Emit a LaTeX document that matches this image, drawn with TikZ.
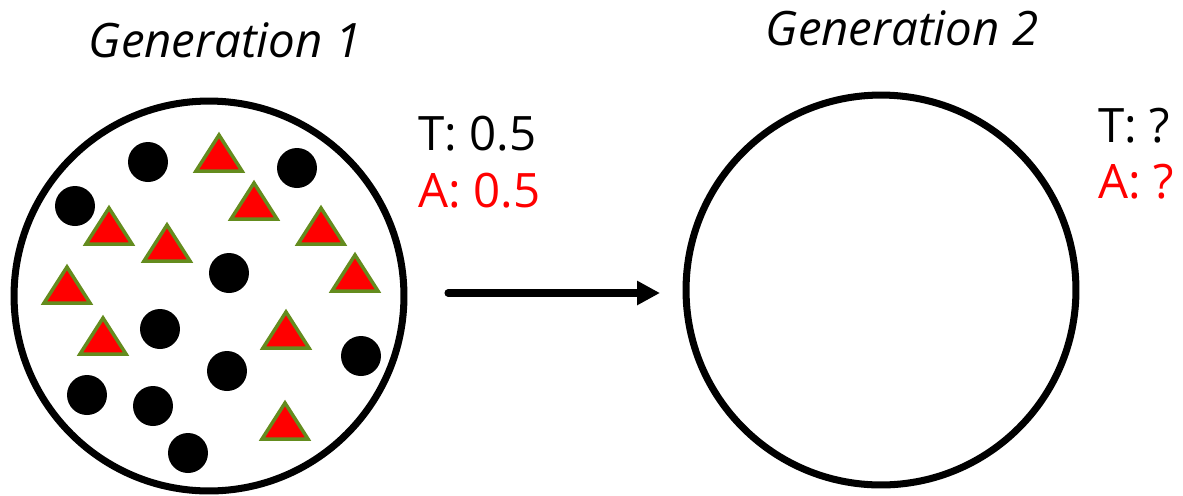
\documentclass[tikz,border=0pt]{standalone}
\usepackage{tikz}
\usepackage{xcolor}
\usepackage{fontspec}
\setmainfont{Open Sans}
\usetikzlibrary{arrows.meta,positioning}
\definecolor{allelered}{RGB}{255,0,0}
\definecolor{alleleedge}{RGB}{100,140,30}

\begin{document}
\begin{tikzpicture}[
            x=0.02cm, y=-0.02cm,
            pool/.style={circle, draw=black, line width=4pt, minimum size=7.8cm, inner sep=0pt},
            dot/.style={fill=black},
            tri/.style={fill=allelered, draw=alleleedge, line width=2pt, line join=miter},
            title/.style={font=\fontsize{27}{32}\selectfont\itshape, inner sep=0pt, anchor=base},
            freq/.style={font=\fontsize{27}{32}\selectfont, inner sep=0pt, anchor=base west},
            arrow/.style={-{Triangle[length=13pt,width=13pt]}, line width=4pt, line cap=round, black}
        ]
        \useasboundingbox (0,0) rectangle (1183,495);

        \node[pool] (gen1) at (209,296) {};
        \node[pool] (gen2) at (881,290) {};

        \node[title] (title1) at (225,57) {Generation 1};
        \node[title] (title2) at (902,45) {Generation 2};

        \node[freq] (t1) at (418,150) {T: 0.5};
        \node[freq, text=allelered] (a1) at (418,207) {A: 0.5};
        \node[freq] (t2) at (1098,142) {T: ?};
        \node[freq, text=allelered] (a2) at (1098,198) {A: ?};

        % black alleles
        \foreach \px/\py in {148/162, 297/168, 75/206, 229/273, 160/329,
                             227/371, 361/356, 87/395, 153/406, 188/453}
            \fill[dot] (\px,\py) circle[radius=0.4cm];

        % red alleles
        \foreach \px/\py in {219/173, 254/221, 109/246, 167/263, 321/246,
                             355/293, 67/305, 103/356, 286/350, 285/441}
            \draw[tri] (\px-23,\py-2) -- (\px,\py-38) -- (\px+23,\py-2) -- cycle;

        \coordinate (arrowstart) at (448,293);
        \coordinate (arrowend) at (660,293);
        \draw[arrow] (arrowstart) -- (arrowend);

        \end{tikzpicture}
\end{document}
